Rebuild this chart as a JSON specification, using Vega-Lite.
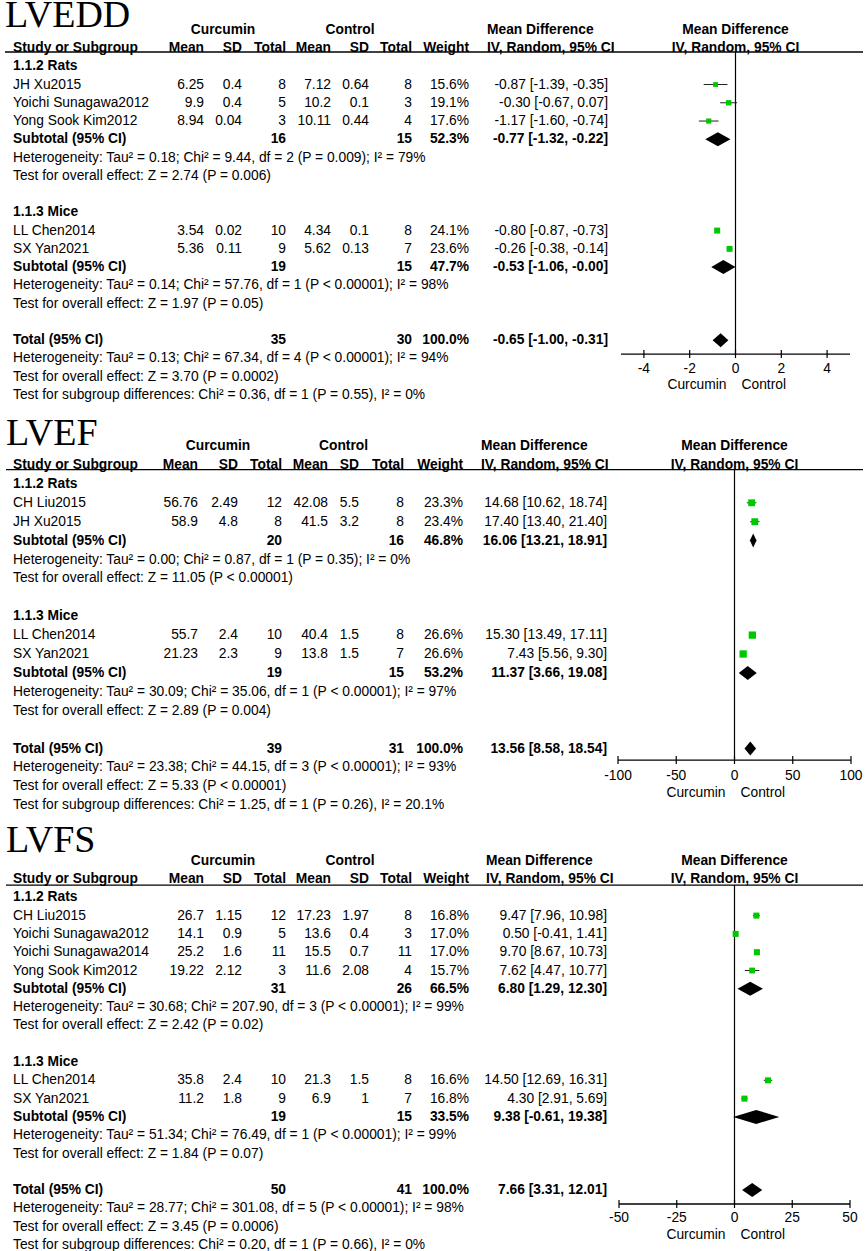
{
"$schema": "https://vega.github.io/schema/vega-lite/v6.json",
"padding": 0,
"spacing": 0,
"bounds": "flush",
"background": "white",
"config": {"view": {"stroke": null}, "axis": {"disable": true}, "text": {"font": "Liberation Sans", "fontSize": 13.8, "baseline": "middle", "color": "black"}},
"resolve": {"scale": {"size": "independent"}},
"datasets": {
"headers": [
{"k":-1,"c":1.5,"t":"Curcumin"},{"k":-1,"c":4.5,"t":"Control"},{"k":-1,"c":8,"t":"Mean Difference"},
{"k":0,"c":0,"t":"Study or Subgroup"},{"k":0,"c":1,"t":"Mean"},{"k":0,"c":2,"t":"SD"},{"k":0,"c":3,"t":"Total"},
{"k":0,"c":4,"t":"Mean"},{"k":0,"c":5,"t":"SD"},{"k":0,"c":6,"t":"Total"},{"k":0,"c":7,"t":"Weight"},{"k":0,"c":8,"t":"IV, Random, 95% CI"}],
"LVEDD_studies": [
{"k":2,"study":"JH Xu2015","m1":6.25,"sd1":0.4,"n1":8,"m2":7.12,"sd2":0.64,"n2":8,"w":0.156,"ci":"-0.87 [-1.39, -0.35]","md":-0.87,"lo":-1.39,"hi":-0.35},
{"k":3,"study":"Yoichi Sunagawa2012","m1":9.9,"sd1":0.4,"n1":5,"m2":10.2,"sd2":0.1,"n2":3,"w":0.191,"ci":"-0.30 [-0.67, 0.07]","md":-0.30,"lo":-0.67,"hi":0.07},
{"k":4,"study":"Yong Sook Kim2012","m1":8.94,"sd1":0.04,"n1":3,"m2":10.11,"sd2":0.44,"n2":4,"w":0.176,"ci":"-1.17 [-1.60, -0.74]","md":-1.17,"lo":-1.60,"hi":-0.74},
{"k":10,"study":"LL Chen2014","m1":3.54,"sd1":0.02,"n1":10,"m2":4.34,"sd2":0.1,"n2":8,"w":0.241,"ci":"-0.80 [-0.87, -0.73]","md":-0.80,"lo":-0.87,"hi":-0.73},
{"k":11,"study":"SX Yan2021","m1":5.36,"sd1":0.11,"n1":9,"m2":5.62,"sd2":0.13,"n2":7,"w":0.236,"ci":"-0.26 [-0.38, -0.14]","md":-0.26,"lo":-0.38,"hi":-0.14}],
"LVEDD_summary": [
{"k":5,"label":"Subtotal (95% CI)","n1":16,"n2":15,"w":0.523,"ci":"-0.77 [-1.32, -0.22]","md":-0.77,"lo":-1.32,"hi":-0.22},
{"k":12,"label":"Subtotal (95% CI)","n1":19,"n2":15,"w":0.477,"ci":"-0.53 [-1.06, -0.00]","md":-0.53,"lo":-1.06,"hi":-0.0},
{"k":16,"label":"Total (95% CI)","n1":35,"n2":30,"w":1.0,"ci":"-0.65 [-1.00, -0.31]","md":-0.65,"lo":-1.00,"hi":-0.31}],
"LVEDD_notes": [
{"k":1,"kind":"group","t":"1.1.2 Rats"},
{"k":6,"kind":"stat","t":"Heterogeneity: Tau² = 0.18; Chi² = 9.44, df = 2 (P = 0.009); I² = 79%"},
{"k":7,"kind":"stat","t":"Test for overall effect: Z = 2.74 (P = 0.006)"},
{"k":9,"kind":"group","t":"1.1.3 Mice"},
{"k":13,"kind":"stat","t":"Heterogeneity: Tau² = 0.14; Chi² = 57.76, df = 1 (P < 0.00001); I² = 98%"},
{"k":14,"kind":"stat","t":"Test for overall effect: Z = 1.97 (P = 0.05)"},
{"k":17,"kind":"stat","t":"Heterogeneity: Tau² = 0.13; Chi² = 67.34, df = 4 (P < 0.00001); I² = 94%"},
{"k":18,"kind":"stat","t":"Test for overall effect: Z = 3.70 (P = 0.0002)"},
{"k":19,"kind":"stat","t":"Test for subgroup differences: Chi² = 0.36, df = 1 (P = 0.55), I² = 0%"}],
"LVEDD_ticks": [{"v":-4},{"v":-2},{"v":0},{"v":2},{"v":4}],
"LVEF_studies": [
{"k":2,"study":"CH Liu2015","m1":56.76,"sd1":2.49,"n1":12,"m2":42.08,"sd2":5.5,"n2":8,"w":0.233,"ci":"14.68 [10.62, 18.74]","md":14.68,"lo":10.62,"hi":18.74},
{"k":3,"study":"JH Xu2015","m1":58.9,"sd1":4.8,"n1":8,"m2":41.5,"sd2":3.2,"n2":8,"w":0.234,"ci":"17.40 [13.40, 21.40]","md":17.40,"lo":13.40,"hi":21.40},
{"k":9,"study":"LL Chen2014","m1":55.7,"sd1":2.4,"n1":10,"m2":40.4,"sd2":1.5,"n2":8,"w":0.266,"ci":"15.30 [13.49, 17.11]","md":15.30,"lo":13.49,"hi":17.11},
{"k":10,"study":"SX Yan2021","m1":21.23,"sd1":2.3,"n1":9,"m2":13.8,"sd2":1.5,"n2":7,"w":0.266,"ci":"7.43 [5.56, 9.30]","md":7.43,"lo":5.56,"hi":9.30}],
"LVEF_summary": [
{"k":4,"label":"Subtotal (95% CI)","n1":20,"n2":16,"w":0.468,"ci":"16.06 [13.21, 18.91]","md":16.06,"lo":13.21,"hi":18.91},
{"k":11,"label":"Subtotal (95% CI)","n1":19,"n2":15,"w":0.532,"ci":"11.37 [3.66, 19.08]","md":11.37,"lo":3.66,"hi":19.08},
{"k":15,"label":"Total (95% CI)","n1":39,"n2":31,"w":1.0,"ci":"13.56 [8.58, 18.54]","md":13.56,"lo":8.58,"hi":18.54}],
"LVEF_notes": [
{"k":1,"kind":"group","t":"1.1.2 Rats"},
{"k":5,"kind":"stat","t":"Heterogeneity: Tau² = 0.00; Chi² = 0.87, df = 1 (P = 0.35); I² = 0%"},
{"k":6,"kind":"stat","t":"Test for overall effect: Z = 11.05 (P < 0.00001)"},
{"k":8,"kind":"group","t":"1.1.3 Mice"},
{"k":12,"kind":"stat","t":"Heterogeneity: Tau² = 30.09; Chi² = 35.06, df = 1 (P < 0.00001); I² = 97%"},
{"k":13,"kind":"stat","t":"Test for overall effect: Z = 2.89 (P = 0.004)"},
{"k":16,"kind":"stat","t":"Heterogeneity: Tau² = 23.38; Chi² = 44.15, df = 3 (P < 0.00001); I² = 93%"},
{"k":17,"kind":"stat","t":"Test for overall effect: Z = 5.33 (P < 0.00001)"},
{"k":18,"kind":"stat","t":"Test for subgroup differences: Chi² = 1.25, df = 1 (P = 0.26), I² = 20.1%"}],
"LVEF_ticks": [{"v":-100},{"v":-50},{"v":0},{"v":50},{"v":100}],
"LVFS_studies": [
{"k":2,"study":"CH Liu2015","m1":26.7,"sd1":1.15,"n1":12,"m2":17.23,"sd2":1.97,"n2":8,"w":0.168,"ci":"9.47 [7.96, 10.98]","md":9.47,"lo":7.96,"hi":10.98},
{"k":3,"study":"Yoichi Sunagawa2012","m1":14.1,"sd1":0.9,"n1":5,"m2":13.6,"sd2":0.4,"n2":3,"w":0.170,"ci":"0.50 [-0.41, 1.41]","md":0.50,"lo":-0.41,"hi":1.41},
{"k":4,"study":"Yoichi Sunagawa2014","m1":25.2,"sd1":1.6,"n1":11,"m2":15.5,"sd2":0.7,"n2":11,"w":0.170,"ci":"9.70 [8.67, 10.73]","md":9.70,"lo":8.67,"hi":10.73},
{"k":5,"study":"Yong Sook Kim2012","m1":19.22,"sd1":2.12,"n1":3,"m2":11.6,"sd2":2.08,"n2":4,"w":0.157,"ci":"7.62 [4.47, 10.77]","md":7.62,"lo":4.47,"hi":10.77},
{"k":11,"study":"LL Chen2014","m1":35.8,"sd1":2.4,"n1":10,"m2":21.3,"sd2":1.5,"n2":8,"w":0.166,"ci":"14.50 [12.69, 16.31]","md":14.50,"lo":12.69,"hi":16.31},
{"k":12,"study":"SX Yan2021","m1":11.2,"sd1":1.8,"n1":9,"m2":6.9,"sd2":1,"n2":7,"w":0.168,"ci":"4.30 [2.91, 5.69]","md":4.30,"lo":2.91,"hi":5.69}],
"LVFS_summary": [
{"k":6,"label":"Subtotal (95% CI)","n1":31,"n2":26,"w":0.665,"ci":"6.80 [1.29, 12.30]","md":6.80,"lo":1.29,"hi":12.30},
{"k":13,"label":"Subtotal (95% CI)","n1":19,"n2":15,"w":0.335,"ci":"9.38 [-0.61, 19.38]","md":9.38,"lo":-0.61,"hi":19.38},
{"k":17,"label":"Total (95% CI)","n1":50,"n2":41,"w":1.0,"ci":"7.66 [3.31, 12.01]","md":7.66,"lo":3.31,"hi":12.01}],
"LVFS_notes": [
{"k":1,"kind":"group","t":"1.1.2 Rats"},
{"k":7,"kind":"stat","t":"Heterogeneity: Tau² = 30.68; Chi² = 207.90, df = 3 (P < 0.00001); I² = 99%"},
{"k":8,"kind":"stat","t":"Test for overall effect: Z = 2.42 (P = 0.02)"},
{"k":10,"kind":"group","t":"1.1.3 Mice"},
{"k":14,"kind":"stat","t":"Heterogeneity: Tau² = 51.34; Chi² = 76.49, df = 1 (P < 0.00001); I² = 99%"},
{"k":15,"kind":"stat","t":"Test for overall effect: Z = 1.84 (P = 0.07)"},
{"k":18,"kind":"stat","t":"Heterogeneity: Tau² = 28.77; Chi² = 301.08, df = 5 (P < 0.00001); I² = 98%"},
{"k":19,"kind":"stat","t":"Test for overall effect: Z = 3.45 (P = 0.0006)"},
{"k":20,"kind":"stat","t":"Test for subgroup differences: Chi² = 0.20, df = 1 (P = 0.66), I² = 0%"}],
"LVFS_ticks": [{"v":-50},{"v":-25},{"v":0},{"v":25},{"v":50}]
},
"vconcat": [
{
"width": 865, "height": 402,
"resolve": {"scale": {"x": "independent"}},
"layer": [
{"layer": [
{"data": {"values": [{"name": "LVEDD"}]}, "mark": {"type": "text", "align": "left", "font": "Liberation Serif", "fontSize": 38, "clip": true},
 "encoding": {"x": {"datum": -1, "type": "quantitative", "scale": {"domain": [-1,0,1,2,3,4,5,6,7,8,9,10], "range": [5,13,204,242,286,331,369,412,469,487,608,863], "nice": false, "zero": false}, "axis": null},
  "y": {"datum": -1.75, "type": "quantitative", "scale": {"domain": [0,19], "range": [48,394.94], "nice": false, "zero": false}, "axis": null},
  "text": {"field": "name"}}},
{"data": {"values": [{}]}, "mark": {"type": "rule", "color": "black", "strokeWidth": 1.3},
 "encoding": {"x": {"datum": -1, "type": "quantitative"}, "x2": {"datum": 10}, "y": {"datum": 0.22, "type": "quantitative"}}},
{"data": {"name": "headers"}, "transform": [{"filter": "datum.c === 0 || datum.c === 8"}], "mark": {"type": "text", "align": "left", "fontWeight": "bold", "clip": true},
 "encoding": {"x": {"field": "c", "type": "quantitative"}, "y": {"field": "k", "type": "quantitative"}, "text": {"field": "t"}}},
{"data": {"name": "headers"}, "transform": [{"filter": "datum.c >= 1 && datum.c <= 7 && datum.c % 1 === 0"}], "mark": {"type": "text", "align": "right", "fontWeight": "bold", "clip": true},
 "encoding": {"x": {"field": "c", "type": "quantitative"}, "y": {"field": "k", "type": "quantitative"}, "text": {"field": "t"}}},
{"data": {"name": "headers"}, "transform": [{"filter": "datum.c % 1 !== 0"}], "mark": {"type": "text", "align": "center", "fontWeight": "bold", "clip": true},
 "encoding": {"x": {"field": "c", "type": "quantitative"}, "y": {"field": "k", "type": "quantitative"}, "text": {"field": "t"}}},
{"data": {"name": "LVEDD_notes"}, "transform": [{"filter": "datum.kind === 'group'"}], "mark": {"type": "text", "align": "left", "fontWeight": "bold", "clip": true},
 "encoding": {"x": {"datum": 0, "type": "quantitative"}, "y": {"field": "k", "type": "quantitative"}, "text": {"field": "t"}}},
{"data": {"name": "LVEDD_notes"}, "transform": [{"filter": "datum.kind === 'stat'"}], "mark": {"type": "text", "align": "left", "clip": true},
 "encoding": {"x": {"datum": 0, "type": "quantitative"}, "y": {"field": "k", "type": "quantitative"}, "text": {"field": "t"}}},
{"data": {"name": "LVEDD_studies"}, "mark": {"type": "text", "align": "left", "clip": true},
 "encoding": {"x": {"datum": 0, "type": "quantitative"}, "y": {"field": "k", "type": "quantitative"}, "text": {"field": "study"}}},
{"data": {"name": "LVEDD_studies"}, "mark": {"type": "text", "align": "right", "clip": true},
 "encoding": {"x": {"datum": 1, "type": "quantitative"}, "y": {"field": "k", "type": "quantitative"}, "text": {"field": "m1", "type": "nominal"}}},
{"data": {"name": "LVEDD_studies"}, "mark": {"type": "text", "align": "right", "clip": true},
 "encoding": {"x": {"datum": 2, "type": "quantitative"}, "y": {"field": "k", "type": "quantitative"}, "text": {"field": "sd1", "type": "nominal"}}},
{"data": {"name": "LVEDD_studies"}, "mark": {"type": "text", "align": "right", "clip": true},
 "encoding": {"x": {"datum": 3, "type": "quantitative"}, "y": {"field": "k", "type": "quantitative"}, "text": {"field": "n1", "type": "nominal"}}},
{"data": {"name": "LVEDD_studies"}, "mark": {"type": "text", "align": "right", "clip": true},
 "encoding": {"x": {"datum": 4, "type": "quantitative"}, "y": {"field": "k", "type": "quantitative"}, "text": {"field": "m2", "type": "nominal"}}},
{"data": {"name": "LVEDD_studies"}, "mark": {"type": "text", "align": "right", "clip": true},
 "encoding": {"x": {"datum": 5, "type": "quantitative"}, "y": {"field": "k", "type": "quantitative"}, "text": {"field": "sd2", "type": "nominal"}}},
{"data": {"name": "LVEDD_studies"}, "mark": {"type": "text", "align": "right", "clip": true},
 "encoding": {"x": {"datum": 6, "type": "quantitative"}, "y": {"field": "k", "type": "quantitative"}, "text": {"field": "n2", "type": "nominal"}}},
{"data": {"name": "LVEDD_studies"}, "mark": {"type": "text", "align": "right", "clip": true},
 "encoding": {"x": {"datum": 7, "type": "quantitative"}, "y": {"field": "k", "type": "quantitative"}, "text": {"field": "w", "type": "quantitative", "format": ".1%"}}},
{"data": {"name": "LVEDD_studies"}, "mark": {"type": "text", "align": "right", "clip": true},
 "encoding": {"x": {"datum": 9, "type": "quantitative"}, "y": {"field": "k", "type": "quantitative"}, "text": {"field": "ci"}}},
{"data": {"name": "LVEDD_summary"}, "mark": {"type": "text", "align": "left", "fontWeight": "bold", "clip": true},
 "encoding": {"x": {"datum": 0, "type": "quantitative"}, "y": {"field": "k", "type": "quantitative"}, "text": {"field": "label"}}},
{"data": {"name": "LVEDD_summary"}, "mark": {"type": "text", "align": "right", "fontWeight": "bold", "clip": true},
 "encoding": {"x": {"datum": 3, "type": "quantitative"}, "y": {"field": "k", "type": "quantitative"}, "text": {"field": "n1", "type": "nominal"}}},
{"data": {"name": "LVEDD_summary"}, "mark": {"type": "text", "align": "right", "fontWeight": "bold", "clip": true},
 "encoding": {"x": {"datum": 6, "type": "quantitative"}, "y": {"field": "k", "type": "quantitative"}, "text": {"field": "n2", "type": "nominal"}}},
{"data": {"name": "LVEDD_summary"}, "mark": {"type": "text", "align": "right", "fontWeight": "bold", "clip": true},
 "encoding": {"x": {"datum": 7, "type": "quantitative"}, "y": {"field": "k", "type": "quantitative"}, "text": {"field": "w", "type": "quantitative", "format": ".1%"}}},
{"data": {"name": "LVEDD_summary"}, "mark": {"type": "text", "align": "right", "fontWeight": "bold", "clip": true},
 "encoding": {"x": {"datum": 9, "type": "quantitative"}, "y": {"field": "k", "type": "quantitative"}, "text": {"field": "ci"}}}
]},
{"layer": [
{"data": {"values": [{}]}, "mark": {"type": "rule", "color": "black", "strokeWidth": 1.2},
 "encoding": {"x": {"datum": 0, "type": "quantitative", "scale": {"domain": [-5,5], "range": [621,850], "nice": false, "zero": false}, "axis": null},
  "y": {"datum": 0.22, "type": "quantitative"}, "y2": {"datum": 16.76}}},
{"data": {"values": [{}]}, "mark": {"type": "rule", "color": "black", "strokeWidth": 1.3},
 "encoding": {"x": {"datum": -5, "type": "quantitative"}, "x2": {"datum": 5}, "y": {"datum": 16.76, "type": "quantitative"}}},
{"data": {"name": "LVEDD_ticks"}, "mark": {"type": "tick", "orient": "vertical", "size": 8, "thickness": 1.2, "color": "black", "opacity": 1},
 "encoding": {"x": {"field": "v", "type": "quantitative"}, "y": {"datum": 16.76, "type": "quantitative"}}},
{"data": {"name": "LVEDD_ticks"}, "mark": {"type": "text", "align": "center", "clip": true},
 "encoding": {"x": {"field": "v", "type": "quantitative"}, "y": {"datum": 17.58, "type": "quantitative"}, "text": {"field": "v", "type": "nominal"}}},
{"data": {"values": [{"a": "Curcumin", "b": "Control"}]}, "mark": {"type": "text", "align": "right", "dx": -9, "clip": true},
 "encoding": {"x": {"datum": 0, "type": "quantitative"}, "y": {"datum": 18.46, "type": "quantitative"}, "text": {"field": "a"}}},
{"data": {"values": [{"a": "Curcumin", "b": "Control"}]}, "mark": {"type": "text", "align": "left", "dx": 6, "clip": true},
 "encoding": {"x": {"datum": 0, "type": "quantitative"}, "y": {"datum": 18.46, "type": "quantitative"}, "text": {"field": "b"}}},
{"data": {"name": "headers"}, "transform": [{"filter": "datum.c === 8"}], "mark": {"type": "text", "align": "center", "fontWeight": "bold", "clip": true},
 "encoding": {"x": {"datum": 0, "type": "quantitative"}, "y": {"field": "k", "type": "quantitative"}, "text": {"field": "t"}}},
{"data": {"name": "LVEDD_studies"}, "mark": {"type": "rule", "color": "#222222", "strokeWidth": 1},
 "encoding": {"x": {"field": "lo", "type": "quantitative"}, "x2": {"field": "hi"}, "y": {"field": "k", "type": "quantitative"}}},
{"data": {"name": "LVEDD_studies"}, "mark": {"type": "point", "shape": "square", "filled": true, "color": "#00c800", "opacity": 1, "strokeWidth": 0},
 "encoding": {"x": {"field": "md", "type": "quantitative"}, "y": {"field": "k", "type": "quantitative"}, "size": {"field": "w", "type": "quantitative", "scale": {"domain": [0, 0.3], "range": [0, 45]}, "legend": null}}},
{"data": {"name": "LVEDD_summary"}, "transform": [{"fold": ["lo", "md", "hi"], "as": ["pt", "xv"]}],
 "mark": {"type": "area", "orient": "vertical", "color": "black", "opacity": 1, "yOffset": {"expr": "datum.pt === 'md' ? -7 : 0"}, "y2Offset": {"expr": "datum.pt === 'md' ? 7 : 0"}},
 "encoding": {"x": {"field": "xv", "type": "quantitative"}, "y": {"field": "k", "type": "quantitative", "stack": null}, "y2": {"field": "k"}, "detail": {"field": "k", "type": "nominal"}}}
]}
]
},
{
"width": 865, "height": 410,
"resolve": {"scale": {"x": "independent"}},
"layer": [
{"layer": [
{"data": {"values": [{"name": "LVEF"}]}, "mark": {"type": "text", "align": "left", "font": "Liberation Serif", "fontSize": 38, "clip": true},
 "encoding": {"x": {"datum": -1, "type": "quantitative", "scale": {"domain": [-1,0,1,2,3,4,5,6,7,8,9,10], "range": [6,13,198,238,282,328,359,404,463,481,607,863], "nice": false, "zero": false}, "axis": null},
  "y": {"datum": -1.64, "type": "quantitative", "scale": {"domain": [0,18], "range": [63,403.2], "nice": false, "zero": false}, "axis": null},
  "text": {"field": "name"}}},
{"data": {"values": [{}]}, "mark": {"type": "rule", "color": "black", "strokeWidth": 1.3},
 "encoding": {"x": {"datum": -1, "type": "quantitative"}, "x2": {"datum": 10}, "y": {"datum": 0.24, "type": "quantitative"}}},
{"data": {"name": "headers"}, "transform": [{"filter": "datum.c === 0 || datum.c === 8"}], "mark": {"type": "text", "align": "left", "fontWeight": "bold", "clip": true},
 "encoding": {"x": {"field": "c", "type": "quantitative"}, "y": {"field": "k", "type": "quantitative"}, "text": {"field": "t"}}},
{"data": {"name": "headers"}, "transform": [{"filter": "datum.c >= 1 && datum.c <= 7 && datum.c % 1 === 0"}], "mark": {"type": "text", "align": "right", "fontWeight": "bold", "clip": true},
 "encoding": {"x": {"field": "c", "type": "quantitative"}, "y": {"field": "k", "type": "quantitative"}, "text": {"field": "t"}}},
{"data": {"name": "headers"}, "transform": [{"filter": "datum.c % 1 !== 0"}], "mark": {"type": "text", "align": "center", "fontWeight": "bold", "clip": true},
 "encoding": {"x": {"field": "c", "type": "quantitative"}, "y": {"field": "k", "type": "quantitative"}, "text": {"field": "t"}}},
{"data": {"name": "LVEF_notes"}, "transform": [{"filter": "datum.kind === 'group'"}], "mark": {"type": "text", "align": "left", "fontWeight": "bold", "clip": true},
 "encoding": {"x": {"datum": 0, "type": "quantitative"}, "y": {"field": "k", "type": "quantitative"}, "text": {"field": "t"}}},
{"data": {"name": "LVEF_notes"}, "transform": [{"filter": "datum.kind === 'stat'"}], "mark": {"type": "text", "align": "left", "clip": true},
 "encoding": {"x": {"datum": 0, "type": "quantitative"}, "y": {"field": "k", "type": "quantitative"}, "text": {"field": "t"}}},
{"data": {"name": "LVEF_studies"}, "mark": {"type": "text", "align": "left", "clip": true},
 "encoding": {"x": {"datum": 0, "type": "quantitative"}, "y": {"field": "k", "type": "quantitative"}, "text": {"field": "study"}}},
{"data": {"name": "LVEF_studies"}, "mark": {"type": "text", "align": "right", "clip": true},
 "encoding": {"x": {"datum": 1, "type": "quantitative"}, "y": {"field": "k", "type": "quantitative"}, "text": {"field": "m1", "type": "nominal"}}},
{"data": {"name": "LVEF_studies"}, "mark": {"type": "text", "align": "right", "clip": true},
 "encoding": {"x": {"datum": 2, "type": "quantitative"}, "y": {"field": "k", "type": "quantitative"}, "text": {"field": "sd1", "type": "nominal"}}},
{"data": {"name": "LVEF_studies"}, "mark": {"type": "text", "align": "right", "clip": true},
 "encoding": {"x": {"datum": 3, "type": "quantitative"}, "y": {"field": "k", "type": "quantitative"}, "text": {"field": "n1", "type": "nominal"}}},
{"data": {"name": "LVEF_studies"}, "mark": {"type": "text", "align": "right", "clip": true},
 "encoding": {"x": {"datum": 4, "type": "quantitative"}, "y": {"field": "k", "type": "quantitative"}, "text": {"field": "m2", "type": "nominal"}}},
{"data": {"name": "LVEF_studies"}, "mark": {"type": "text", "align": "right", "clip": true},
 "encoding": {"x": {"datum": 5, "type": "quantitative"}, "y": {"field": "k", "type": "quantitative"}, "text": {"field": "sd2", "type": "nominal"}}},
{"data": {"name": "LVEF_studies"}, "mark": {"type": "text", "align": "right", "clip": true},
 "encoding": {"x": {"datum": 6, "type": "quantitative"}, "y": {"field": "k", "type": "quantitative"}, "text": {"field": "n2", "type": "nominal"}}},
{"data": {"name": "LVEF_studies"}, "mark": {"type": "text", "align": "right", "clip": true},
 "encoding": {"x": {"datum": 7, "type": "quantitative"}, "y": {"field": "k", "type": "quantitative"}, "text": {"field": "w", "type": "quantitative", "format": ".1%"}}},
{"data": {"name": "LVEF_studies"}, "mark": {"type": "text", "align": "right", "clip": true},
 "encoding": {"x": {"datum": 9, "type": "quantitative"}, "y": {"field": "k", "type": "quantitative"}, "text": {"field": "ci"}}},
{"data": {"name": "LVEF_summary"}, "mark": {"type": "text", "align": "left", "fontWeight": "bold", "clip": true},
 "encoding": {"x": {"datum": 0, "type": "quantitative"}, "y": {"field": "k", "type": "quantitative"}, "text": {"field": "label"}}},
{"data": {"name": "LVEF_summary"}, "mark": {"type": "text", "align": "right", "fontWeight": "bold", "clip": true},
 "encoding": {"x": {"datum": 3, "type": "quantitative"}, "y": {"field": "k", "type": "quantitative"}, "text": {"field": "n1", "type": "nominal"}}},
{"data": {"name": "LVEF_summary"}, "mark": {"type": "text", "align": "right", "fontWeight": "bold", "clip": true},
 "encoding": {"x": {"datum": 6, "type": "quantitative"}, "y": {"field": "k", "type": "quantitative"}, "text": {"field": "n2", "type": "nominal"}}},
{"data": {"name": "LVEF_summary"}, "mark": {"type": "text", "align": "right", "fontWeight": "bold", "clip": true},
 "encoding": {"x": {"datum": 7, "type": "quantitative"}, "y": {"field": "k", "type": "quantitative"}, "text": {"field": "w", "type": "quantitative", "format": ".1%"}}},
{"data": {"name": "LVEF_summary"}, "mark": {"type": "text", "align": "right", "fontWeight": "bold", "clip": true},
 "encoding": {"x": {"datum": 9, "type": "quantitative"}, "y": {"field": "k", "type": "quantitative"}, "text": {"field": "ci"}}}
]},
{"layer": [
{"data": {"values": [{}]}, "mark": {"type": "rule", "color": "black", "strokeWidth": 1.2},
 "encoding": {"x": {"datum": 0, "type": "quantitative", "scale": {"domain": [-100,100], "range": [618,851], "nice": false, "zero": false}, "axis": null},
  "y": {"datum": 0.24, "type": "quantitative"}, "y2": {"datum": 15.61}}},
{"data": {"values": [{}]}, "mark": {"type": "rule", "color": "black", "strokeWidth": 1.3},
 "encoding": {"x": {"datum": -100, "type": "quantitative"}, "x2": {"datum": 100}, "y": {"datum": 15.61, "type": "quantitative"}}},
{"data": {"name": "LVEF_ticks"}, "mark": {"type": "tick", "orient": "vertical", "size": 8, "thickness": 1.2, "color": "black", "opacity": 1},
 "encoding": {"x": {"field": "v", "type": "quantitative"}, "y": {"datum": 15.61, "type": "quantitative"}}},
{"data": {"name": "LVEF_ticks"}, "mark": {"type": "text", "align": "center", "clip": true},
 "encoding": {"x": {"field": "v", "type": "quantitative"}, "y": {"datum": 16.46, "type": "quantitative"}, "text": {"field": "v", "type": "nominal"}}},
{"data": {"values": [{"a": "Curcumin", "b": "Control"}]}, "mark": {"type": "text", "align": "right", "dx": -9, "clip": true},
 "encoding": {"x": {"datum": 0, "type": "quantitative"}, "y": {"datum": 17.35, "type": "quantitative"}, "text": {"field": "a"}}},
{"data": {"values": [{"a": "Curcumin", "b": "Control"}]}, "mark": {"type": "text", "align": "left", "dx": 6, "clip": true},
 "encoding": {"x": {"datum": 0, "type": "quantitative"}, "y": {"datum": 17.35, "type": "quantitative"}, "text": {"field": "b"}}},
{"data": {"name": "headers"}, "transform": [{"filter": "datum.c === 8"}], "mark": {"type": "text", "align": "center", "fontWeight": "bold", "clip": true},
 "encoding": {"x": {"datum": 0, "type": "quantitative"}, "y": {"field": "k", "type": "quantitative"}, "text": {"field": "t"}}},
{"data": {"name": "LVEF_studies"}, "mark": {"type": "rule", "color": "#222222", "strokeWidth": 1},
 "encoding": {"x": {"field": "lo", "type": "quantitative"}, "x2": {"field": "hi"}, "y": {"field": "k", "type": "quantitative"}}},
{"data": {"name": "LVEF_studies"}, "mark": {"type": "point", "shape": "square", "filled": true, "color": "#00c800", "opacity": 1, "strokeWidth": 0},
 "encoding": {"x": {"field": "md", "type": "quantitative"}, "y": {"field": "k", "type": "quantitative"}, "size": {"field": "w", "type": "quantitative", "scale": {"domain": [0, 0.3], "range": [0, 60]}, "legend": null}}},
{"data": {"name": "LVEF_summary"}, "transform": [{"fold": ["lo", "md", "hi"], "as": ["pt", "xv"]}],
 "mark": {"type": "area", "orient": "vertical", "color": "black", "opacity": 1, "yOffset": {"expr": "datum.pt === 'md' ? -7 : 0"}, "y2Offset": {"expr": "datum.pt === 'md' ? 7 : 0"}},
 "encoding": {"x": {"field": "xv", "type": "quantitative"}, "y": {"field": "k", "type": "quantitative", "stack": null}, "y2": {"field": "k"}, "detail": {"field": "k", "type": "nominal"}}}
]}
]
},
{
"width": 865, "height": 439,
"resolve": {"scale": {"x": "independent"}},
"layer": [
{"layer": [
{"data": {"values": [{"name": "LVFS"}]}, "mark": {"type": "text", "align": "left", "font": "Liberation Serif", "fontSize": 38, "clip": true},
 "encoding": {"x": {"datum": -1, "type": "quantitative", "scale": {"domain": [-1,0,1,2,3,4,5,6,7,8,9,10], "range": [6,13,204,242,286,331,369,412,469,486,607,863], "nice": false, "zero": false}, "axis": null},
  "y": {"datum": -2.08, "type": "quantitative", "scale": {"domain": [0,20], "range": [67,433], "nice": false, "zero": false}, "axis": null},
  "text": {"field": "name"}}},
{"data": {"values": [{}]}, "mark": {"type": "rule", "color": "black", "strokeWidth": 1.3},
 "encoding": {"x": {"datum": -1, "type": "quantitative"}, "x2": {"datum": 10}, "y": {"datum": 0.33, "type": "quantitative"}}},
{"data": {"name": "headers"}, "transform": [{"filter": "datum.c === 0 || datum.c === 8"}], "mark": {"type": "text", "align": "left", "fontWeight": "bold", "clip": true},
 "encoding": {"x": {"field": "c", "type": "quantitative"}, "y": {"field": "k", "type": "quantitative"}, "text": {"field": "t"}}},
{"data": {"name": "headers"}, "transform": [{"filter": "datum.c >= 1 && datum.c <= 7 && datum.c % 1 === 0"}], "mark": {"type": "text", "align": "right", "fontWeight": "bold", "clip": true},
 "encoding": {"x": {"field": "c", "type": "quantitative"}, "y": {"field": "k", "type": "quantitative"}, "text": {"field": "t"}}},
{"data": {"name": "headers"}, "transform": [{"filter": "datum.c % 1 !== 0"}], "mark": {"type": "text", "align": "center", "fontWeight": "bold", "clip": true},
 "encoding": {"x": {"field": "c", "type": "quantitative"}, "y": {"field": "k", "type": "quantitative"}, "text": {"field": "t"}}},
{"data": {"name": "LVFS_notes"}, "transform": [{"filter": "datum.kind === 'group'"}], "mark": {"type": "text", "align": "left", "fontWeight": "bold", "clip": true},
 "encoding": {"x": {"datum": 0, "type": "quantitative"}, "y": {"field": "k", "type": "quantitative"}, "text": {"field": "t"}}},
{"data": {"name": "LVFS_notes"}, "transform": [{"filter": "datum.kind === 'stat'"}], "mark": {"type": "text", "align": "left", "clip": true},
 "encoding": {"x": {"datum": 0, "type": "quantitative"}, "y": {"field": "k", "type": "quantitative"}, "text": {"field": "t"}}},
{"data": {"name": "LVFS_studies"}, "mark": {"type": "text", "align": "left", "clip": true},
 "encoding": {"x": {"datum": 0, "type": "quantitative"}, "y": {"field": "k", "type": "quantitative"}, "text": {"field": "study"}}},
{"data": {"name": "LVFS_studies"}, "mark": {"type": "text", "align": "right", "clip": true},
 "encoding": {"x": {"datum": 1, "type": "quantitative"}, "y": {"field": "k", "type": "quantitative"}, "text": {"field": "m1", "type": "nominal"}}},
{"data": {"name": "LVFS_studies"}, "mark": {"type": "text", "align": "right", "clip": true},
 "encoding": {"x": {"datum": 2, "type": "quantitative"}, "y": {"field": "k", "type": "quantitative"}, "text": {"field": "sd1", "type": "nominal"}}},
{"data": {"name": "LVFS_studies"}, "mark": {"type": "text", "align": "right", "clip": true},
 "encoding": {"x": {"datum": 3, "type": "quantitative"}, "y": {"field": "k", "type": "quantitative"}, "text": {"field": "n1", "type": "nominal"}}},
{"data": {"name": "LVFS_studies"}, "mark": {"type": "text", "align": "right", "clip": true},
 "encoding": {"x": {"datum": 4, "type": "quantitative"}, "y": {"field": "k", "type": "quantitative"}, "text": {"field": "m2", "type": "nominal"}}},
{"data": {"name": "LVFS_studies"}, "mark": {"type": "text", "align": "right", "clip": true},
 "encoding": {"x": {"datum": 5, "type": "quantitative"}, "y": {"field": "k", "type": "quantitative"}, "text": {"field": "sd2", "type": "nominal"}}},
{"data": {"name": "LVFS_studies"}, "mark": {"type": "text", "align": "right", "clip": true},
 "encoding": {"x": {"datum": 6, "type": "quantitative"}, "y": {"field": "k", "type": "quantitative"}, "text": {"field": "n2", "type": "nominal"}}},
{"data": {"name": "LVFS_studies"}, "mark": {"type": "text", "align": "right", "clip": true},
 "encoding": {"x": {"datum": 7, "type": "quantitative"}, "y": {"field": "k", "type": "quantitative"}, "text": {"field": "w", "type": "quantitative", "format": ".1%"}}},
{"data": {"name": "LVFS_studies"}, "mark": {"type": "text", "align": "right", "clip": true},
 "encoding": {"x": {"datum": 9, "type": "quantitative"}, "y": {"field": "k", "type": "quantitative"}, "text": {"field": "ci"}}},
{"data": {"name": "LVFS_summary"}, "mark": {"type": "text", "align": "left", "fontWeight": "bold", "clip": true},
 "encoding": {"x": {"datum": 0, "type": "quantitative"}, "y": {"field": "k", "type": "quantitative"}, "text": {"field": "label"}}},
{"data": {"name": "LVFS_summary"}, "mark": {"type": "text", "align": "right", "fontWeight": "bold", "clip": true},
 "encoding": {"x": {"datum": 3, "type": "quantitative"}, "y": {"field": "k", "type": "quantitative"}, "text": {"field": "n1", "type": "nominal"}}},
{"data": {"name": "LVFS_summary"}, "mark": {"type": "text", "align": "right", "fontWeight": "bold", "clip": true},
 "encoding": {"x": {"datum": 6, "type": "quantitative"}, "y": {"field": "k", "type": "quantitative"}, "text": {"field": "n2", "type": "nominal"}}},
{"data": {"name": "LVFS_summary"}, "mark": {"type": "text", "align": "right", "fontWeight": "bold", "clip": true},
 "encoding": {"x": {"datum": 7, "type": "quantitative"}, "y": {"field": "k", "type": "quantitative"}, "text": {"field": "w", "type": "quantitative", "format": ".1%"}}},
{"data": {"name": "LVFS_summary"}, "mark": {"type": "text", "align": "right", "fontWeight": "bold", "clip": true},
 "encoding": {"x": {"datum": 9, "type": "quantitative"}, "y": {"field": "k", "type": "quantitative"}, "text": {"field": "ci"}}}
]},
{"layer": [
{"data": {"values": [{}]}, "mark": {"type": "rule", "color": "black", "strokeWidth": 1.2},
 "encoding": {"x": {"datum": 0, "type": "quantitative", "scale": {"domain": [-50,50], "range": [619,850], "nice": false, "zero": false}, "axis": null},
  "y": {"datum": 0.33, "type": "quantitative"}, "y2": {"datum": 17.76}}},
{"data": {"values": [{}]}, "mark": {"type": "rule", "color": "black", "strokeWidth": 1.3},
 "encoding": {"x": {"datum": -50, "type": "quantitative"}, "x2": {"datum": 50}, "y": {"datum": 17.76, "type": "quantitative"}}},
{"data": {"name": "LVFS_ticks"}, "mark": {"type": "tick", "orient": "vertical", "size": 8, "thickness": 1.2, "color": "black", "opacity": 1},
 "encoding": {"x": {"field": "v", "type": "quantitative"}, "y": {"datum": 17.76, "type": "quantitative"}}},
{"data": {"name": "LVFS_ticks"}, "mark": {"type": "text", "align": "center", "clip": true},
 "encoding": {"x": {"field": "v", "type": "quantitative"}, "y": {"datum": 18.52, "type": "quantitative"}, "text": {"field": "v", "type": "nominal"}}},
{"data": {"values": [{"a": "Curcumin", "b": "Control"}]}, "mark": {"type": "text", "align": "right", "dx": -9, "clip": true},
 "encoding": {"x": {"datum": 0, "type": "quantitative"}, "y": {"datum": 19.45, "type": "quantitative"}, "text": {"field": "a"}}},
{"data": {"values": [{"a": "Curcumin", "b": "Control"}]}, "mark": {"type": "text", "align": "left", "dx": 6, "clip": true},
 "encoding": {"x": {"datum": 0, "type": "quantitative"}, "y": {"datum": 19.45, "type": "quantitative"}, "text": {"field": "b"}}},
{"data": {"name": "headers"}, "transform": [{"filter": "datum.c === 8"}], "mark": {"type": "text", "align": "center", "fontWeight": "bold", "clip": true},
 "encoding": {"x": {"datum": 0, "type": "quantitative"}, "y": {"field": "k", "type": "quantitative"}, "text": {"field": "t"}}},
{"data": {"name": "LVFS_studies"}, "mark": {"type": "rule", "color": "#222222", "strokeWidth": 1},
 "encoding": {"x": {"field": "lo", "type": "quantitative"}, "x2": {"field": "hi"}, "y": {"field": "k", "type": "quantitative"}}},
{"data": {"name": "LVFS_studies"}, "mark": {"type": "point", "shape": "square", "filled": true, "color": "#00c800", "opacity": 1, "strokeWidth": 0},
 "encoding": {"x": {"field": "md", "type": "quantitative"}, "y": {"field": "k", "type": "quantitative"}, "size": {"field": "w", "type": "quantitative", "scale": {"domain": [0, 0.2], "range": [0, 43]}, "legend": null}}},
{"data": {"name": "LVFS_summary"}, "transform": [{"fold": ["lo", "md", "hi"], "as": ["pt", "xv"]}],
 "mark": {"type": "area", "orient": "vertical", "color": "black", "opacity": 1, "yOffset": {"expr": "datum.pt === 'md' ? -7 : 0"}, "y2Offset": {"expr": "datum.pt === 'md' ? 7 : 0"}},
 "encoding": {"x": {"field": "xv", "type": "quantitative"}, "y": {"field": "k", "type": "quantitative", "stack": null}, "y2": {"field": "k"}, "detail": {"field": "k", "type": "nominal"}}}
]}
]
}
]
}
